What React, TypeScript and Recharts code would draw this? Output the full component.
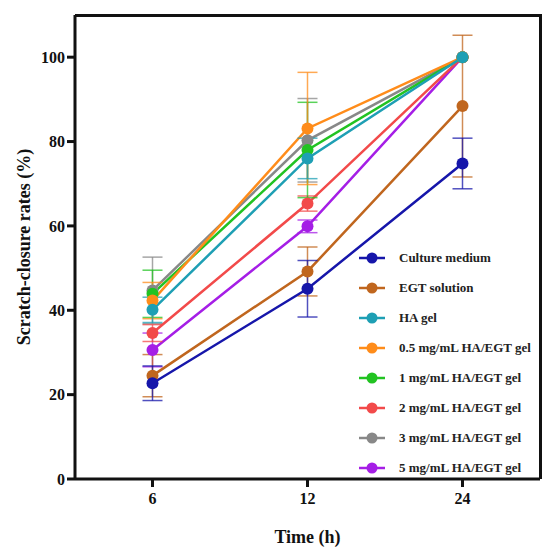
import React from 'react';
import { LineChart, Line, XAxis, YAxis, ErrorBar, Legend } from 'recharts';

const times = ['6', '12', '24'];
const yTicks = [0, 20, 40, 60, 80, 100];
const yMax = 110;

const seriesNames = [
  'Culture medium',
  'EGT solution',
  'HA gel',
  '0.5 mg/mL HA/EGT gel',
  '1 mg/mL HA/EGT gel',
  '2 mg/mL HA/EGT gel',
  '3 mg/mL HA/EGT gel',
  '5 mg/mL HA/EGT gel',
];
const seriesKeys = ['cm', 'egt', 'ha', 'g05', 'g1', 'g2', 'g3', 'g5'];
const seriesColors = ['#1616aa', '#c0661e', '#1e9fb4', '#ff8c1a', '#22c322', '#f24a4a', '#888888', '#a51ee6'];

const cmValues = [22.7, 45.1, 74.8];
const cmErrors = [4.1, 6.7, 6.0];
const egtValues = [24.5, 49.2, 88.4];
const egtErrors = [5.0, 5.8, 16.8];
const haValues = [40.1, 76.0, 100];
const haErrors = [3.0, 4.8, 0];
const g05Values = [42.3, 83.1, 100];
const g05Errors = [4.3, 13.3, 0];
const g1Values = [43.9, 78.0, 100];
const g1Errors = [5.6, 11.3, 0];
const g2Values = [34.6, 65.3, 100];
const g2Errors = [2.0, 1.8, 0];
const g3Values = [44.7, 80.3, 100];
const g3Errors = [7.9, 9.9, 0];
const g5Values = [30.6, 59.9, 100];
const g5Errors = [4.0, 1.5, 0];

const allValues = [cmValues, egtValues, haValues, g05Values, g1Values, g2Values, g3Values, g5Values];
const allErrors = [cmErrors, egtErrors, haErrors, g05Errors, g1Errors, g2Errors, g3Errors, g5Errors];

const data = times.map((t, i) => {
  const row: Record<string, string | number> = { time: t };
  seriesKeys.forEach((k, s) => {
    row[k] = allValues[s][i];
    row[k + 'Err'] = allErrors[s][i];
  });
  return row;
});

const FONT = '"Liberation Serif", "Times New Roman", serif';

const CHART_W = 550;
const CHART_H = 553;
const MARGIN = { top: 15, right: 10, bottom: 0, left: 0 };
const Y_AXIS_W = 75;
const X_AXIS_H = 74;

const renderLegend = () => (
  <div style={{ display: 'flex', flexDirection: 'column' }}>
    {seriesNames.map((name, i) => (
      <div key={name} style={{ height: 30, display: 'flex', alignItems: 'center' }}>
        <svg width={26} height={14} style={{ display: 'block' }}>
          <line x1={0} y1={7} x2={26} y2={7} stroke={seriesColors[i]} strokeWidth={2.5} />
          <circle cx={13} cy={7} r={5.5} fill={seriesColors[i]} />
        </svg>
        <span
          style={{
            marginLeft: 14,
            fontFamily: FONT,
            fontWeight: 'bold',
            fontSize: 13,
            color: '#222',
            whiteSpace: 'nowrap',
          }}
        >
          {name}
        </span>
      </div>
    ))}
  </div>
);

const order = [7, 6, 5, 4, 3, 2, 1, 0];

export default function App() {
  const tickStyle = { fontFamily: FONT, fontWeight: 'bold', fontSize: 16, fill: '#111' };
  const plotLeft = MARGIN.left + Y_AXIS_W;
  const plotTop = MARGIN.top;
  const plotRight = CHART_W - MARGIN.right;
  const plotBottom = CHART_H - MARGIN.bottom - X_AXIS_H;
  return (
    <div style={{ position: 'absolute', left: 0, top: 0, width: CHART_W, height: CHART_H, background: '#fff' }}>
      <LineChart width={CHART_W} height={CHART_H} data={data} margin={MARGIN}>
        <XAxis
          dataKey="time"
          scale="band"
          height={X_AXIS_H}
          axisLine={{ stroke: '#111', strokeWidth: 3 }}
          tickLine={{ stroke: '#111', strokeWidth: 3 }}
          tickSize={8}
          tick={tickStyle}
          tickMargin={6}
          label={{
            value: 'Time (h)',
            position: 'insideBottom',
            offset: 10,
            style: { fontFamily: FONT, fontWeight: 'bold', fontSize: 18, fill: '#111' },
          }}
        />
        <YAxis
          domain={[0, yMax]}
          ticks={yTicks}
          width={Y_AXIS_W}
          axisLine={{ stroke: '#111', strokeWidth: 3 }}
          tickLine={{ stroke: '#111', strokeWidth: 3 }}
          tickSize={8}
          tick={tickStyle}
          tickMargin={2}
          label={{
            value: 'Scratch-closure rates (%)',
            angle: -90,
            position: 'insideLeft',
            offset: 24,
            style: { fontFamily: FONT, fontWeight: 'bold', fontSize: 18, fill: '#111', textAnchor: 'middle' },
          }}
        />
        {order.map((s) => (
          <Line
            key={seriesKeys[s]}
            dataKey={seriesKeys[s]}
            name={seriesNames[s]}
            stroke={seriesColors[s]}
            strokeWidth={2.5}
            dot={{ r: 6, fill: seriesColors[s], stroke: 'none' }}
            activeDot={false}
            isAnimationActive={false}
          >
            <ErrorBar
              dataKey={seriesKeys[s] + 'Err'}
              width={10}
              stroke={seriesColors[s]}
              strokeOpacity={0.75}
              strokeWidth={1.5}
              direction="y"
              isAnimationActive={false}
            />
          </Line>
        ))}
        <Legend
          layout="horizontal"
          verticalAlign="middle"
          align="center"
          content={renderLegend}
          wrapperStyle={{ left: 359, top: 243, width: 190 }}
        />
      </LineChart>
      <div
        style={{
          position: 'absolute',
          pointerEvents: 'none',
          boxSizing: 'border-box',
          left: plotLeft,
          top: plotTop - 1.5,
          width: plotRight - plotLeft + 1.5,
          height: plotBottom - plotTop + 1.5,
          borderTop: '3px solid #111',
          borderRight: '3px solid #111',
        }}
      />
    </div>
  );
}
